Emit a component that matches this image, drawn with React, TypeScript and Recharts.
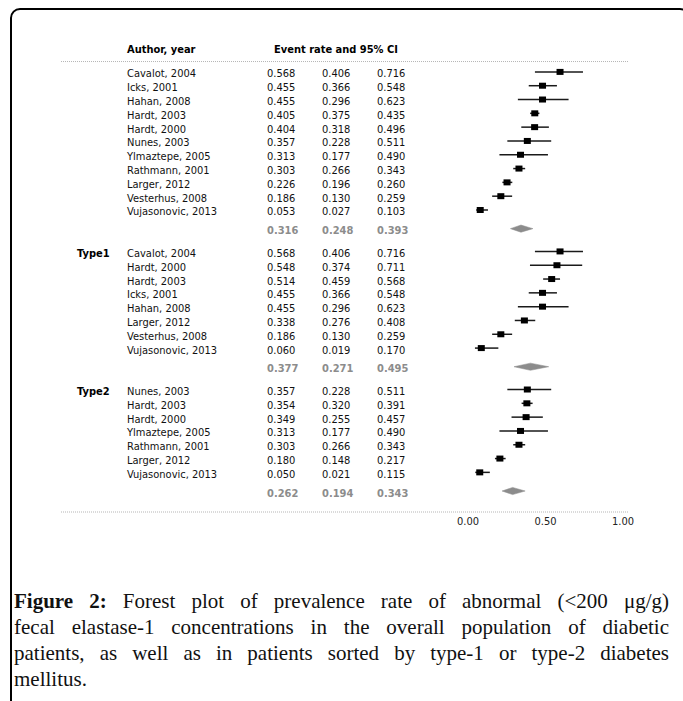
import React from 'react';
import { ScatterChart, Scatter, XAxis, YAxis, ErrorBar, ReferenceArea } from 'recharts';

// overall population
const overallAuthors = [
  'Cavalot, 2004', 'Icks, 2001', 'Hahan, 2008', 'Hardt, 2003', 'Hardt, 2000', 'Nunes, 2003',
  'Ylmaztepe, 2005', 'Rathmann, 2001', 'Larger, 2012', 'Vesterhus, 2008', 'Vujasonovic, 2013',
];
const overallRate = [0.568, 0.455, 0.455, 0.405, 0.404, 0.357, 0.313, 0.303, 0.226, 0.186, 0.053];
const overallLower = [0.406, 0.366, 0.296, 0.375, 0.318, 0.228, 0.177, 0.266, 0.196, 0.13, 0.027];
const overallUpper = [0.716, 0.548, 0.623, 0.435, 0.496, 0.511, 0.49, 0.343, 0.26, 0.259, 0.103];
const overallSummary = [0.316, 0.248, 0.393];

// type 1
const type1Authors = [
  'Cavalot, 2004', 'Hardt, 2000', 'Hardt, 2003', 'Icks, 2001', 'Hahan, 2008', 'Larger, 2012',
  'Vesterhus, 2008', 'Vujasonovic, 2013',
];
const type1Rate = [0.568, 0.548, 0.514, 0.455, 0.455, 0.338, 0.186, 0.06];
const type1Lower = [0.406, 0.374, 0.459, 0.366, 0.296, 0.276, 0.13, 0.019];
const type1Upper = [0.716, 0.711, 0.568, 0.548, 0.623, 0.408, 0.259, 0.17];
const type1Summary = [0.377, 0.271, 0.495];

// type 2
const type2Authors = [
  'Nunes, 2003', 'Hardt, 2003', 'Hardt, 2000', 'Ylmaztepe, 2005', 'Rathmann, 2001', 'Larger, 2012',
  'Vujasonovic, 2013',
];
const type2Rate = [0.357, 0.354, 0.349, 0.313, 0.303, 0.18, 0.05];
const type2Lower = [0.228, 0.32, 0.255, 0.177, 0.266, 0.148, 0.021];
const type2Upper = [0.511, 0.391, 0.457, 0.49, 0.343, 0.217, 0.115];
const type2Summary = [0.262, 0.194, 0.343];

const axisTicks = [0, 0.5, 1];

const groups = [
  { label: '', authors: overallAuthors, rate: overallRate, lower: overallLower, upper: overallUpper, summary: overallSummary },
  { label: 'Type1', authors: type1Authors, rate: type1Rate, lower: type1Lower, upper: type1Upper, summary: type1Summary },
  { label: 'Type2', authors: type2Authors, rate: type2Rate, lower: type2Lower, upper: type2Upper, summary: type2Summary },
];

const FONT = "'DejaVu Sans Condensed', 'DejaVu Sans', sans-serif";
const TEXT_DY = 2;
const COLS = { label: 77, author: 127, est: 267, low: 322, high: 377 };

type Row = {
  y: number;
  kind: 'header' | 'line' | 'study' | 'summary';
  label?: string;
  author?: string;
  values?: number[];
};

const rows: Row[] = [
  { y: -1.74, kind: 'header' },
  { y: -0.75, kind: 'line' },
];
const studies: { x: number; y: number; err: number[] }[] = [];
const summaries: { y: number; est: number; lower: number; upper: number }[] = [];

let start = 0;
groups.forEach((g) => {
  g.authors.forEach((author, i) => {
    const y = start + i;
    rows.push({ y, kind: 'study', label: i === 0 ? g.label : '', author, values: [g.rate[i], g.lower[i], g.upper[i]] });
    studies.push({ x: g.rate[i], y, err: [g.rate[i] - g.lower[i], g.upper[i] - g.rate[i]] });
  });
  const sy = start + g.authors.length + 0.35;
  rows.push({ y: sy, kind: 'summary', values: g.summary });
  summaries.push({ y: sy, est: g.summary[0], lower: g.summary[1], upper: g.summary[2] });
  start += g.authors.length + 2;
});
rows.push({ y: 31.87, kind: 'line' });

const fmt = (v: number) => v.toFixed(3);

const TableTick = (props: any) => {
  const { y, payload } = props;
  const row = rows.find((r) => Math.abs(r.y - payload.value) < 0.001);
  if (!row) return null;
  if (row.kind === 'line') {
    return <line x1={61} x2={628} y1={y} y2={y} stroke="#b5b5b5" strokeWidth={1} strokeDasharray="1 1" />;
  }
  const ty = y + TEXT_DY;
  const common = { fontFamily: FONT, fontSize: 11, dominantBaseline: 'central' as const, textAnchor: 'start' as const };
  if (row.kind === 'header') {
    return (
      <g>
        <text {...common} x={COLS.author} y={ty} fontWeight="bold" fill="#000">Author, year</text>
        <text {...common} x={274} y={ty} fontWeight="bold" fill="#000">Event rate and 95% CI</text>
      </g>
    );
  }
  const vals = row.values || [];
  if (row.kind === 'summary') {
    return (
      <g>
        {[COLS.est, COLS.low, COLS.high].map((cx, i) => (
          <text key={i} {...common} x={cx} y={ty} fontWeight="bold" fill="#8c8c8c">{fmt(vals[i])}</text>
        ))}
      </g>
    );
  }
  return (
    <g>
      {row.label ? <text {...common} x={COLS.label} y={ty} fontWeight="bold" fill="#000">{row.label}</text> : null}
      <text {...common} x={COLS.author} y={ty} fill="#111">{row.author}</text>
      {[COLS.est, COLS.low, COLS.high].map((cx, i) => (
        <text key={i} {...common} x={cx} y={ty} fill="#111">{fmt(vals[i])}</text>
      ))}
    </g>
  );
};

const AxisTick = (props: any) => {
  const { x, y, payload } = props;
  return (
    <text x={x - 4} y={y + 1} fontFamily={FONT} fontSize={11} fill="#222" textAnchor="middle" dominantBaseline="central">
      {payload.value.toFixed(2)}
    </text>
  );
};

const SquareMark = (props: any) => {
  const { cx, cy } = props;
  return <rect x={cx - 3.5} y={cy - 3} width={7} height={6} fill="#000" />;
};

const diamond = (est: number, lower: number, upper: number) => (p: any) => {
  const { x, y, width, height } = p;
  const peak = x + (width * (est - lower)) / (upper - lower);
  const mid = y + height / 2;
  return (
    <polygon
      points={`${x},${mid} ${peak},${y} ${x + width},${mid} ${peak},${y + height}`}
      fill="#8c8c8c"
      stroke="#8c8c8c"
      strokeWidth={0.5}
    />
  );
};

export default function App() {
  return (
    <div style={{ position: 'absolute', left: 0, top: 0, width: 683, height: 701, overflow: 'hidden', background: '#fff' }}>
      <div
        style={{
          position: 'absolute',
          left: 10,
          top: 8,
          width: 680,
          height: 730,
          border: '2px solid #000',
          borderRadius: 10,
          boxSizing: 'border-box',
        }}
      />
      <div style={{ position: 'absolute', left: 0, top: 0 }}>
        <ScatterChart width={683} height={542} margin={{ top: 36, right: 56, bottom: 0, left: 0 }}>
          <XAxis
            type="number"
            dataKey="x"
            domain={[0, 1]}
            ticks={axisTicks}
            axisLine={false}
            tickLine={false}
            tick={<AxisTick />}
            height={30}
            allowDataOverflow
          />
          <YAxis
            type="number"
            dataKey="y"
            domain={[-2.6, 31.87]}
            reversed
            ticks={rows.map((r) => r.y)}
            interval={0}
            axisLine={false}
            tickLine={false}
            tick={<TableTick />}
            width={472}
            allowDataOverflow
          />
          {summaries.map((s, i) => (
            <ReferenceArea
              key={i}
              x1={s.lower}
              x2={s.upper}
              y1={s.y - 0.26}
              y2={s.y + 0.26}
              shape={diamond(s.est, s.lower, s.upper)}
            />
          ))}
          <Scatter data={studies} shape={<SquareMark />} isAnimationActive={false}>
            <ErrorBar dataKey="err" direction="x" width={0} stroke="#1a1a1a" strokeWidth={1.5} />
          </Scatter>
        </ScatterChart>
      </div>
      <div
        style={{
          position: 'absolute',
          left: 14,
          top: 588,
          width: 655,
          fontFamily: "'Liberation Serif', 'Times New Roman', serif",
          fontSize: 21,
          lineHeight: '26px',
          color: '#111',
          textAlign: 'justify',
        }}
      >
        <div style={{ textAlignLast: 'justify' }}>
          <b>Figure 2:</b> Forest plot of prevalence rate of abnormal (&lt;200 μg/g)
        </div>
        <div style={{ textAlignLast: 'justify' }}>fecal elastase-1 concentrations in the overall population of diabetic</div>
        <div style={{ textAlignLast: 'justify' }}>patients, as well as in patients sorted by type-1 or type-2 diabetes</div>
        <div>mellitus.</div>
      </div>
    </div>
  );
}
